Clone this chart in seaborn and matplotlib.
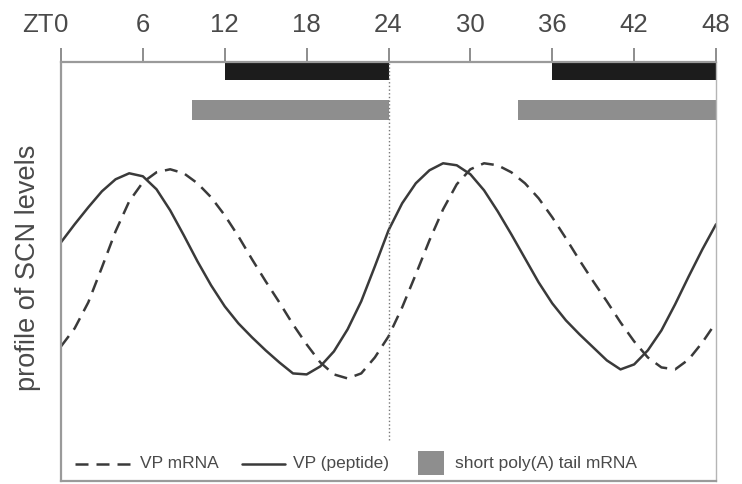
import matplotlib
matplotlib.use("Agg")
import matplotlib.pyplot as plt
import pandas as pd
import seaborn as sns

# Zeitgeber time (hours) and relative SCN levels
hours = list(range(0, 49))
vp_mrna = [135, 153, 179, 214, 250, 280, 299, 309, 312, 308, 298, 284, 266,
           245, 222, 200, 179, 157, 137, 119, 107, 103, 108, 124, 145,
           174, 207, 241, 272, 297, 312, 318, 316, 309, 298, 283, 264,
           243, 221, 200, 180, 159, 140, 124, 114, 112, 122, 139, 159]
vp_peptide = [239, 257, 274, 290, 302, 308, 305, 292, 271, 246, 220, 196, 175,
              158, 144, 131, 119, 108, 107, 115, 130, 152, 180, 215, 251,
              278, 298, 311, 318, 316, 307, 291, 270, 247, 223, 199, 178,
              161, 147, 134, 121, 112, 117, 131, 151, 177, 205, 232, 257]

# (start, duration) in hours
dark_phases = [(12, 12), (36, 12)]
short_polya_phases = [(9.6, 14.4), (33.5, 14.5)]

zt_ticks = [0, 6, 12, 18, 24, 30, 36, 42, 48]
zt_labels = ["0", "6", "12", "18", "24", "30", "36", "42", "48"]

series_names = ["VP mRNA", "VP (peptide)"]

ink = "#3a3a3a"
dark_col = "#1c1c1c"
grey_col = "#8e8e8e"
frame_col = "#9a9a9a"
text_col = "#4a4a4a"

sns.set_style("white")
plt.rcParams["font.family"] = ["Liberation Sans", "DejaVu Sans"]

df = pd.concat([
    pd.DataFrame({"hour": hours, "level": vp_mrna, "series": series_names[0]}),
    pd.DataFrame({"hour": hours, "level": vp_peptide, "series": series_names[1]}),
])

fig = plt.figure(figsize=(7.42, 4.84), dpi=100)
ax = fig.add_axes([0.0822, 0.0052, 0.8828, 0.8673])

sns.lineplot(data=df, x="hour", y="level", style="series", style_order=series_names,
             dashes={series_names[0]: (5.2, 3.2), series_names[1]: ""},
             color=ink, linewidth=1.8, estimator=None, legend=False, ax=ax)

# light/dark and poly(A) bars
ax.broken_barh(dark_phases, (401, 20), facecolors=dark_col, edgecolor="none")
ax.broken_barh(short_polya_phases, (361, 20), facecolors=grey_col, edgecolor="none")

# ZT24 marker
ax.vlines(24, 41, 420, colors="#777777", linestyles=":", linewidth=1.0)

ax.set_xlim(0, 48)
ax.set_ylim(0, 419.5)
ax.set_xlabel("")
ax.set_yticks([])

ax.xaxis.tick_top()
ax.set_xticks(zt_ticks)
ax.set_xticklabels(zt_labels)
ax.tick_params(axis="x", top=True, bottom=False, direction="out", length=10, width=1.2,
               color="#7a7a7a", pad=7.5, labelsize=18.5, labelcolor=text_col)
ax.annotate("ZT", xy=(0, 1), xycoords=("data", "axes fraction"),
            xytext=(-5.5, 17.5), textcoords="offset points",
            ha="right", va="bottom", fontsize=18.5, color=text_col)

for side in ["top", "left", "bottom"]:
    ax.spines[side].set_color(frame_col)
    ax.spines[side].set_linewidth(1.6)
ax.spines["right"].set_color("#b5b5b5")
ax.spines["right"].set_linewidth(1.0)

ax.set_ylabel("profile of SCN levels", fontsize=19.5, color=text_col)
ax.yaxis.set_label_coords(-0.03, 0.51)

# legend row along the bottom of the frame
leg_y = 0.0417
ax.plot([0.0214, 0.1099], [leg_y, leg_y], transform=ax.transAxes, color=ink,
        linewidth=1.8, dashes=(5.2, 3.2))
ax.text(0.1206, leg_y, series_names[0], transform=ax.transAxes, ha="left", va="center",
        fontsize=12.5, color=text_col)
ax.plot([0.2763, 0.3420], [leg_y, leg_y], transform=ax.transAxes, color=ink, linewidth=1.8)
ax.text(0.3542, leg_y, series_names[1], transform=ax.transAxes, ha="left", va="center",
        fontsize=12.5, color=text_col)
ax.add_patch(plt.Rectangle((0.5450, 0.0143), 0.0397, 0.0572, transform=ax.transAxes,
                           facecolor=grey_col, edgecolor="none"))
ax.text(0.6015, leg_y, "short poly(A) tail mRNA", transform=ax.transAxes, ha="left",
        va="center", fontsize=12.5, color=text_col)

fig.savefig("out.png", dpi=100)
